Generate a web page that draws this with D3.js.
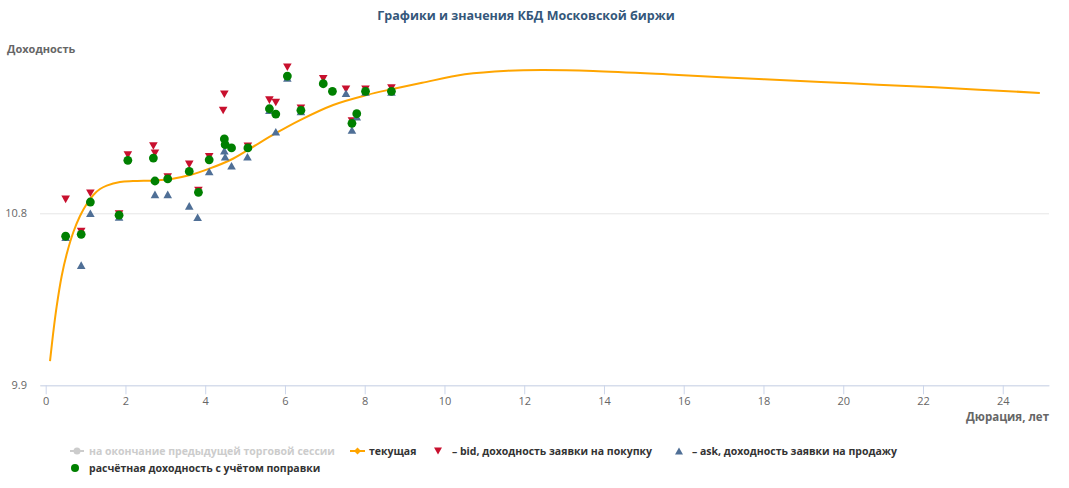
<!DOCTYPE html>
<html><head><meta charset="utf-8">
<script src="https://cdn.jsdelivr.net/npm/d3@7/dist/d3.min.js"></script>
<style>
html,body{margin:0;padding:0;background:#fff;}
svg text{font-family:"Open Sans","Noto Sans","DejaVu Sans",sans-serif;}
</style></head>
<body><svg id="c" width="1069" height="488"></svg>
<script>
// ---- data ----
const title = "Графики и значения КБД Московской биржи";
const yTitle = "Доходность";
const xTitle = "Дюрация, лет";
const xTicks = [0,2,4,6,8,10,12,14,16,18,20,22,24];
const yTicks = [9.9, 10.8];

// current curve (duration, yield)
const curveDur = [0.108,0.191,0.276,0.401,0.527,0.692,0.860,1.028,1.194,1.362,1.530,1.863,2.189,2.74,3.12,3.62,4.12,4.63,5.12,5.77,6.38,7.21,8.05,8.67,9.44,10.51,11.59,12.44,13.73,15.87,18.02,20.16,22.30,24.93];
const curveYld = [10.027,10.179,10.314,10.472,10.587,10.701,10.786,10.849,10.896,10.927,10.945,10.964,10.969,10.972,10.978,11.000,11.035,11.079,11.138,11.219,11.288,11.367,11.419,11.449,11.483,11.527,11.546,11.550,11.545,11.524,11.501,11.480,11.459,11.430];

// bid
const bidDur = [0.50,0.89,1.12,1.84,2.06,2.70,2.74,3.06,3.60,3.83,4.10,4.48,4.45,5.07,5.61,5.77,6.06,6.40,6.96,7.53,7.68,8.02,8.67];
const bidYld = [10.873,10.704,10.905,10.796,11.105,11.152,11.114,10.990,11.056,10.919,11.096,11.423,11.338,11.150,11.392,11.380,11.564,11.349,11.504,11.449,11.283,11.449,11.456];

// ask
const askDur = [0.50,0.89,1.12,1.84,2.74,3.06,3.60,3.81,4.10,4.48,4.50,4.66,5.06,5.61,5.77,6.06,6.40,7.53,7.68,7.80,8.02,8.67];
const askYld = [10.675,10.529,10.800,10.781,10.899,10.899,10.839,10.779,11.019,11.128,11.096,11.049,11.096,11.340,11.227,11.508,11.333,11.428,11.236,11.305,11.435,11.435];

// calculated yield with correction
const calcDur = [0.50,0.89,1.12,1.84,2.06,2.70,2.74,3.06,3.60,3.83,4.10,4.48,4.50,4.66,5.07,5.61,5.77,6.06,6.40,6.96,7.19,7.68,7.80,8.02,8.67];
const calcYld = [10.680,10.690,10.859,10.790,11.077,11.089,10.969,10.980,11.019,10.910,11.080,11.189,11.159,11.142,11.142,11.347,11.319,11.518,11.339,11.478,11.438,11.271,11.321,11.438,11.438];

const legendItems = [
  "на окончание предыдущей торговой сессии",
  "текущая",
  "– bid, доходность заявки на покупку",
  "– ask, доходность заявки на продажу",
  "расчётная доходность с учётом поправки"
];

// ---- chart ----
const svg = d3.select("#c");
const L = 40, R = 1049, T = 41.3, B = 385.3;
const x = d3.scaleLinear().domain([-0.143, 25.16]).range([L, R]);
const y = d3.scaleLinear().domain([9.9, 11.7]).range([B, T]);

svg.append("text").attr("x", 526).attr("y", 20).attr("text-anchor","middle")
  .attr("font-size", 12.5).attr("font-weight","bold").attr("fill","#34577a").text(title);

// y grid + labels
const ya = svg.append("g").attr("transform",`translate(${L},0)`)
  .call(d3.axisLeft(y).tickValues(yTicks).tickSize(-(R-L)).tickFormat(d3.format(".1f")));
ya.select(".domain").remove();
ya.selectAll(".tick line").attr("stroke","#e6e6e6");
ya.selectAll(".tick text").attr("x",-13).attr("fill","#666").attr("font-size",11)
  .attr("font-family",'"Open Sans",sans-serif');

svg.append("text").attr("x",7).attr("y",53).attr("font-size",11).attr("font-weight","bold")
  .attr("fill","#666").text(yTitle);

// x axis
const xa = svg.append("g").attr("transform",`translate(0,${B})`)
  .call(d3.axisBottom(x).tickValues(xTicks).tickSize(9).tickSizeOuter(0).tickPadding(3));
xa.select(".domain").attr("stroke","#ccd6eb");
xa.selectAll(".tick line").attr("stroke","#ccd6eb");
xa.selectAll(".tick text").attr("fill","#666").attr("font-size",11)
  .attr("font-family",'"Open Sans",sans-serif');

svg.append("text").attr("x",R).attr("y",421).attr("text-anchor","end").attr("font-size",11.5)
  .attr("font-weight","bold").attr("fill","#666").text(xTitle);

// curve
const curvePts = curveDur.map((d,i)=>[d,curveYld[i]]);
svg.append("path").datum(curvePts)
  .attr("d", d3.line().x(d=>x(d[0])).y(d=>y(d[1])).curve(d3.curveCatmullRom.alpha(0.5)))
  .attr("fill","none").attr("stroke","#ffa500").attr("stroke-width",2);

const triDown = (cx,cy,r)=>`M${cx-r},${cy-r+0.5}L${cx+r},${cy-r+0.5}L${cx},${cy+r-0.5}Z`;
const triUp = (cx,cy,r)=>`M${cx},${cy-r+0.5}L${cx+r},${cy+r-0.5}L${cx-r},${cy+r-0.5}Z`;

svg.append("g").selectAll("path").data(bidDur.map((d,i)=>[d,bidYld[i]])).join("path")
  .attr("d", d=>triDown(x(d[0]),y(d[1]),4.3)).attr("fill","#c8102e");
svg.append("g").selectAll("path").data(askDur.map((d,i)=>[d,askYld[i]])).join("path")
  .attr("d", d=>triUp(x(d[0]),y(d[1]),4.3)).attr("fill","#4f6f96");
svg.append("g").selectAll("circle").data(calcDur.map((d,i)=>[d,calcYld[i]])).join("circle")
  .attr("cx", d=>x(d[0])).attr("cy", d=>y(d[1])).attr("r",4.4).attr("fill","#008000");

// legend
const lg = svg.append("g").attr("font-size",10.5).attr("font-weight","bold");
const r1 = 451, r2 = 468;
// item 1 (hidden series)
lg.append("line").attr("x1",70).attr("x2",84).attr("y1",r1).attr("y2",r1).attr("stroke","#ccc").attr("stroke-width",2);
lg.append("circle").attr("cx",77).attr("cy",r1).attr("r",3.5).attr("fill","#ccc");
lg.append("text").attr("x",89).attr("y",r1+4).attr("fill","#ccc").text(legendItems[0]);
// item 2
lg.append("line").attr("x1",350).attr("x2",365).attr("y1",r1).attr("y2",r1).attr("stroke","#ffa500").attr("stroke-width",2);
lg.append("path").attr("d",`M357.5,${r1-3.5}L361,${r1}L357.5,${r1+3.5}L354,${r1}Z`).attr("fill","#ffa500");
lg.append("text").attr("x",369).attr("y",r1+4).attr("fill","#333").text(legendItems[1]);
// item 3
lg.append("path").attr("d",triDown(438,r1,4)).attr("fill","#c8102e");
lg.append("text").attr("x",452).attr("y",r1+4).attr("fill","#333").text(legendItems[2]);
// item 4
lg.append("path").attr("d",triUp(679,r1,4)).attr("fill","#4f6f96");
lg.append("text").attr("x",692).attr("y",r1+4).attr("fill","#333").text(legendItems[3]);
// item 5
lg.append("circle").attr("cx",75).attr("cy",r2).attr("r",4).attr("fill","#008000");
lg.append("text").attr("x",89).attr("y",r2+4).attr("fill","#333").text(legendItems[4]);
</script></body></html>
